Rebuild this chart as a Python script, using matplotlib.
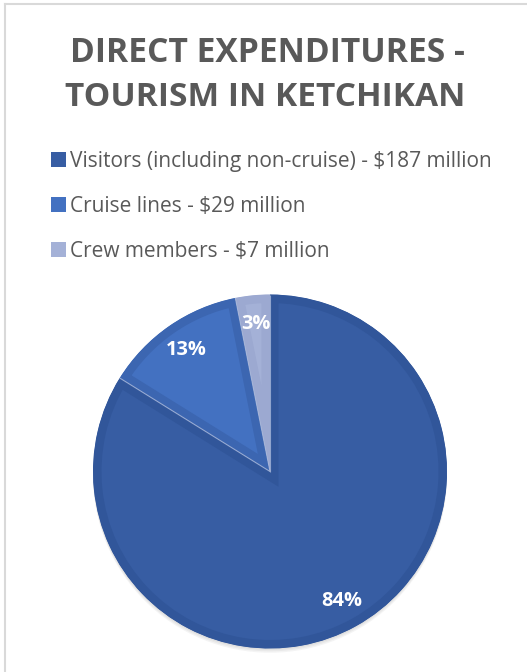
import numpy as np
import matplotlib
matplotlib.use("Agg")
import matplotlib.pyplot as plt
from matplotlib.lines import Line2D
from matplotlib.patches import Rectangle, Circle
from matplotlib.transforms import TransformedPath

# ---- data ----
title_lines = ["DIRECT EXPENDITURES -", "TOURISM IN KETCHIKAN"]
categories = ["Visitors (including non-cruise) - $187 million",
              "Cruise lines - $29 million",
              "Crew members - $7 million"]
values = [187, 29, 7]
pct_labels = ["84%", "13%", "3%"]

# ---- style ----
W, H = 527, 672
DPI = 100
fills = ["#375DA3", "#4371C1", "#A4B1D7"]
bands = ["#31569A", "#3C66B1", "#9CA9D1"]
text_gray = "#595959"

fig = plt.figure(figsize=(W / DPI, H / DPI), dpi=DPI)
fig.patch.set_facecolor("white")

def fx(px):
    return px / W

def fy(py):
    return 1 - py / H

# frame
fig.add_artist(Line2D([fx(5), fx(5)], [fy(4), 0], color="#D9D9D9", lw=1.5))
fig.add_artist(Line2D([fx(5), 1], [fy(4), fy(4)], color="#D9D9D9", lw=1.5))

renderer = fig.canvas.get_renderer()

def fit(t, target):
    w = t.get_window_extent(renderer).width
    t.set_fontsize(t.get_fontsize() * target / w)

# title
t1 = fig.text(fx(267.5), fy(62), title_lines[0], ha="center", va="baseline",
              fontsize=22, fontweight="bold", color=text_gray, family="Open Sans")
t2 = fig.text(fx(265.5), fy(106), title_lines[1], ha="center", va="baseline",
              fontsize=22, fontweight="bold", color=text_gray, family="Open Sans")
fit(t1, 395)
fit(t2, 399)

# legend
baselines = [167, 212, 257]
legend_texts = []
for i, (lab, b) in enumerate(zip(categories, baselines)):
    fig.add_artist(Rectangle((fx(51), fy(b)), fx(15), 15 / H,
                             facecolor=fills[i], edgecolor="none",
                             transform=fig.transFigure))
    t = fig.text(fx(70), fy(b), lab, ha="left", va="baseline",
                 fontsize=14, color=text_gray, family="Open Sans")
    legend_texts.append(t)
w0 = legend_texts[0].get_window_extent(renderer).width
scale = 423 / w0
for t in legend_texts:
    t.set_fontsize(t.get_fontsize() * scale)

# pie
cx, cy, R = 270, 471.5, 177
ax = fig.add_axes([fx(cx - R), (H - cy - R) / H, 2 * R / W, 2 * R / H])

wedges, texts, autotexts = ax.pie(values, colors=fills, startangle=90,
                                  counterclock=False, autopct="%1.0f%%",
                                  pctdistance=0.835, radius=1.0,
                                  wedgeprops=dict(edgecolor="none"))
ax.set_xlim(-1, 1)
ax.set_ylim(-1, 1)
ax.set_aspect("equal")
ax.axis("off")

# soft shadow under the pie
for k in range(3):
    sh = Circle((0, -0.008 * (k + 1)), 1.0, facecolor="#666666",
                edgecolor="none", alpha=0.07, zorder=0.5)
    sh.set_clip_on(False)
    ax.add_patch(sh)

band_px = 8.5
for w, bc in zip(wedges, bands):
    w.set_zorder(2)
    w.set_edgecolor(bc)
    w.set_linewidth(2 * band_px * 72 / DPI)
    w.set_clip_path(TransformedPath(w.get_path(), w.get_transform()))
    w.set_clip_on(True)

# thin light separators along slice boundaries
for w in wedges:
    th = np.deg2rad(w.theta1)
    ax.plot([0, np.cos(th)], [0, np.sin(th)], color="#A9B8DA", lw=0.8,
            alpha=0.8, zorder=3, solid_capstyle="butt")

for at, lab in zip(autotexts, pct_labels):
    at.set_text(lab)
    at.set_color("white")
    at.set_fontweight("bold")
    at.set_family("Open Sans")
    at.set_fontsize(14)
    at.set_zorder(5)
fit(autotexts[0], 41)
for at in autotexts[1:]:
    at.set_fontsize(autotexts[0].get_fontsize())

fig.savefig("out.png", dpi=DPI)
